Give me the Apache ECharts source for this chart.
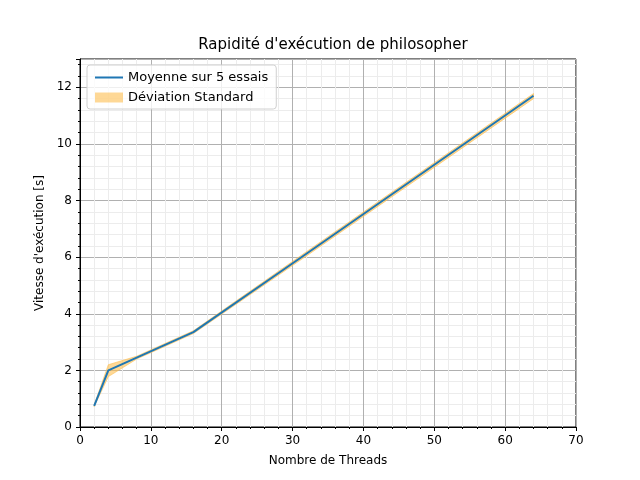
<!DOCTYPE html>
<html>
<head>
	<meta charset="utf-8" />
	<script src="https://cdn.jsdelivr.net/npm/echarts@6/dist/echarts.min.js"></script>
</head>
<body style="margin: 0; background-color: #ffffff">
	<div id="main" style="width: 640px; height: 480px;"></div>
</body>
<script type="text/javascript">
	var threads = [2, 4, 8, 16, 32, 64];
	var moyenne = [0.75, 2.0, 2.45, 3.35, 6.13, 11.7];
	var basse = [0.72, 1.78, 2.4, 3.3, 6.05, 11.6];
	var haute = [0.78, 2.2, 2.5, 3.4, 6.2, 11.78];

	function pairs(ys) {
		return threads.map(function (x, i) { return [x, ys[i]]; });
	}
	var bandData = threads.map(function (x, i) { return [x, basse[i], haute[i]]; });

	var font = 'DejaVu Sans';
	var myChart = echarts.init(document.getElementById('main'));

	var axisCommon = {
		type: 'value',
		axisLine: { show: true, onZero: false, lineStyle: { color: '#000' } },
		axisTick: { show: true, length: 4, lineStyle: { color: '#000' } },
		minorTick: { show: true, splitNumber: 5, length: 2, lineStyle: { color: '#000' } },
		splitLine: { show: true, lineStyle: { color: '#b0b0b0', width: 1 } },
		minorSplitLine: { show: true, lineStyle: { color: '#ececec', width: 1 } },
		axisLabel: { color: '#000', fontFamily: font, fontSize: 12, showMaxLabel: true },
		nameLocation: 'middle',
		nameTextStyle: { color: '#000', fontFamily: font, fontSize: 12 }
	};

	option = {
		animation: false,
		title: {
			text: "Rapidité d'exécution de philosopher",
			left: 328, top: 33, textAlign: 'center',
			textStyle: { fontFamily: font, fontSize: 15, fontWeight: 'normal', color: '#000' }
		},
		grid: { left: 80, right: 64, top: 59, bottom: 53, show: true, borderColor: '#000', borderWidth: 1 },
		legend: {
			orient: 'vertical', left: 87, top: 65,
			padding: [6, 8, 5, 8], itemGap: 7,
			borderColor: '#d0d0d0', borderWidth: 1, borderRadius: 3,
			backgroundColor: 'rgba(255,255,255,0.8)',
			itemWidth: 28, itemHeight: 10,
			textStyle: { fontFamily: font, fontSize: 13, color: '#000' },
			data: [
				{ name: 'Moyenne sur 5 essais', icon: 'path://M0,4L28,4L28,6L0,6Z' },
				{ name: 'Déviation Standard', icon: 'rect', itemStyle: { color: 'rgba(253,190,80,0.6)' } }
			]
		},
		xAxis: Object.assign({}, axisCommon, {
			min: 0, max: 70, interval: 10,
			name: 'Nombre de Threads', nameGap: 28
		}),
		yAxis: Object.assign({}, axisCommon, {
			min: 0, max: 13, interval: 2,
			axisLabel: { color: '#000', fontFamily: font, fontSize: 12, showMaxLabel: false },
			name: "Vitesse d'exécution [s]", nameGap: 32
		}),
		series: [
			{
				name: 'Déviation Standard', type: 'custom',
				itemStyle: { color: 'rgba(253,190,80,0.6)' },
				data: bandData,
				encode: { x: 0, y: [1, 2] },
				renderItem: function (params, api) {
					if (params.dataIndex !== 0) return null;
					var top = [], bottom = [];
					for (var i = 0; i < bandData.length; i++) {
						top.push(api.coord([bandData[i][0], bandData[i][2]]));
						bottom.unshift(api.coord([bandData[i][0], bandData[i][1]]));
					}
					return {
						type: 'polygon',
						shape: { points: top.concat(bottom) },
						style: { fill: 'rgba(253,190,80,0.6)', stroke: 'rgba(253,190,80,0.6)', lineWidth: 1 }
					};
				}
			},
			{
				name: 'Moyenne sur 5 essais', type: 'line', symbol: 'none',
				data: pairs(moyenne), itemStyle: { color: '#1f77b4' },
				lineStyle: { color: '#1f77b4', width: 2 }, z: 5
			}
		]
	};

	myChart.setOption(option);
</script>
</html>
